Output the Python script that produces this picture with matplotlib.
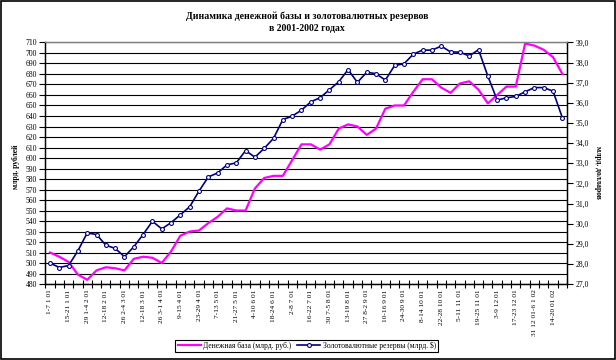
import matplotlib
matplotlib.use("Agg")
import matplotlib.pyplot as plt
from matplotlib.patches import Rectangle
from matplotlib.ticker import FixedLocator, FuncFormatter

plt.rcParams['font.family'] = ['Liberation Serif', 'DejaVu Serif']

# weekly data, Jan 2001 - Jan 2002
money_base = [510, 506, 501, 489, 484, 493, 496, 495, 493, 504, 506, 505, 500, 511,
              526, 530, 531, 538, 544, 552, 550, 550, 571, 581, 583, 583, 598, 613,
              613, 608, 613, 628, 632, 630, 622, 628, 647, 650, 650, 663, 675, 675,
              667, 662, 671, 673, 665, 652, 660, 668, 668, 709, 707, 703, 696, 680]
reserves = [28.05, 27.82, 27.92, 28.65, 29.54, 29.46, 28.93, 28.77, 28.36, 28.85,
            29.46, 30.12, 29.74, 30.05, 30.44, 30.84, 31.62, 32.32, 32.52, 32.92,
            33.02, 33.63, 33.30, 33.74, 34.24, 35.17, 35.34, 35.64, 36.05, 36.26,
            36.65, 37.05, 37.65, 37.02, 37.52, 37.45, 37.13, 37.86, 37.94, 38.42,
            38.62, 38.62, 38.82, 38.53, 38.52, 38.33, 38.64, 37.33, 36.14, 36.25,
            36.32, 36.55, 36.76, 36.76, 36.58, 35.26]
week_labels = ["1-7 1 01", "15-21 1 01", "29 1-4 2 01", "12-18 2 01", "26 2-4 3 01",
               "12-18 3 01", "26 3-1 4 01", "9-15 4 01", "23-29 4 01", "7-13 5 01",
               "21-27 5 01", "4-10 6 01", "18-24 6 01", "2-8 7 01", "16-22 7 01",
               "30 7-5 8 01", "13-19 8 01", "27 8-2 9 01", "10-16 9 01", "24-30 9 01",
               "8-14 10 01", "22-28 10 01", "5-11 11 01", "19-25 11 01", "3-9 12 01",
               "17-23 12 01", "31 12 01-6 1 02", "14-20 01 02"]
left_ticks = list(range(480, 711, 10))
right_ticks = list(range(27, 40))

fig = plt.figure(figsize=(6.16, 3.6), dpi=100)
ax = fig.add_axes([0.0735, 0.211, 0.847, 0.671])
ax2 = ax.twinx()

x = list(range(len(money_base)))
l1, = ax.plot(x, money_base, color='#FF00FF', lw=1.6, zorder=3)
l2, = ax2.plot(x, reserves, color='#000080', lw=1.2, marker='o', ms=2.8,
               mfc='white', mec='#000080', mew=0.8, zorder=3)

ax.set_xlim(-0.5, len(x) - 0.5)
ax.set_ylim(480, 710)
ax2.set_ylim(27, 39)

ax.set_yticks(left_ticks)
ax.set_yticklabels([str(v) for v in left_ticks], fontsize=5.5)
ax2.set_yticks(right_ticks)
ax2.yaxis.set_major_formatter(FuncFormatter(lambda v, p: f"{v:.1f}".replace('.', ',')))
ax2.tick_params(axis='y', labelsize=5.5, length=4, width=0.8, pad=2)
ax.tick_params(axis='y', length=4, width=0.8, pad=2)

ax.set_xticks(list(range(0, len(x), 2)))
ax.set_xticklabels(week_labels, rotation=90, fontsize=5.3)
ax.xaxis.set_minor_locator(FixedLocator([i - 0.5 for i in range(len(x) + 1)]))
ax.tick_params(axis='x', which='major', length=0, pad=4)
ax.tick_params(axis='x', which='minor', direction='inout', length=6, width=0.8)

ax.set_axisbelow(True)
ax.grid(axis='y', color='black', lw=0.8)
ax.get_ygridlines()[-1].set_color('gray')

for a in (ax, ax2):
    for s in ('left', 'right', 'bottom'):
        a.spines[s].set_color('black')
        a.spines[s].set_linewidth(0.9)
    a.spines['top'].set_color('gray')
    a.spines['top'].set_linewidth(0.9)

fig.text(0.498, 1 - 22 / 360, "Динамика денежной базы и золотовалютных резервов\nв 2001-2002 годах",
         ha='center', va='center', fontsize=7, fontweight='bold', linespacing=1.4)
fig.text(16 / 616, 1 - 167 / 360, "млрд. рублей", rotation=90, ha='center', va='center',
         fontsize=5.5, fontweight='bold')
fig.text(598 / 616, 1 - 172 / 360, "млрд. долларов", rotation=-90, ha='center', va='center',
         fontsize=5.5, fontweight='bold')

leg = fig.legend([l1, l2], ["Денежная база (млрд. руб.)", "Золотовалютные резервы (млрд. $)"],
                 loc='center', bbox_to_anchor=(0.498, 1 - 346 / 360), ncol=2, fontsize=5.5,
                 frameon=True, fancybox=False, framealpha=1, edgecolor='black',
                 handlelength=3, handletextpad=0.3, columnspacing=0.8, borderpad=0.3)
leg.get_frame().set_linewidth(0.8)

fig.patches.append(Rectangle((0.001, 0.002), 0.997, 0.996, transform=fig.transFigure,
                             fill=False, edgecolor='black', lw=1.2))

fig.savefig("out.png", dpi=100)
